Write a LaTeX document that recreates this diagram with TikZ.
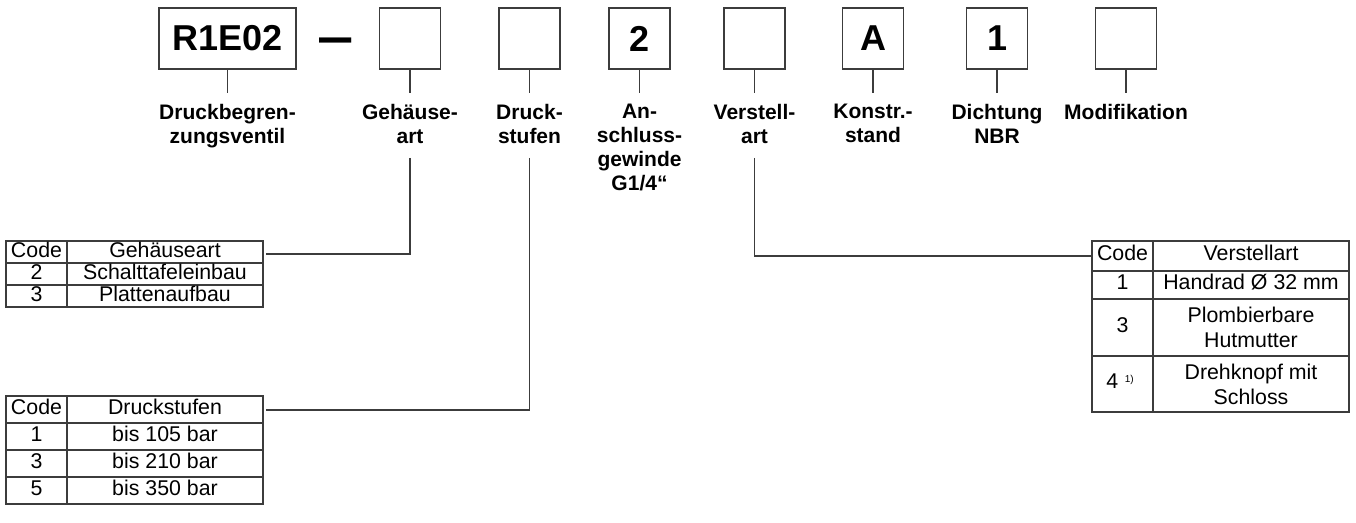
\documentclass[tikz,border=0pt]{standalone}
\usepackage{fontspec}
\setmainfont{Liberation Sans}
\definecolor{linec}{HTML}{3C3C3C}
\begin{document}
\begin{tikzpicture}[x=0.75pt,y=-0.75pt,
  codebox/.style={draw=linec, line width=1.1pt, minimum width=45.75pt, minimum height=45.75pt, inner sep=0pt, font=\bfseries\fontsize{27}{27}\selectfont},
  lbl/.style={anchor=north, align=center, inner sep=0pt, font=\bfseries\fontsize{15.75}{18}\selectfont},
  conn/.style={draw=linec, line width=0.9pt},
  tline/.style={draw=linec, line width=1pt},
  cell/.style={inner sep=0pt, font=\fontsize{16}{18.75}\selectfont, text height=0.716em, text depth=0pt},
  mcell/.style={inner sep=0pt, align=center, font=\fontsize{16}{18.75}\selectfont}]
\useasboundingbox (0,0) rectangle (1356,523);

% top code boxes
\node[codebox, minimum width=102.75pt] (b0) at (227.5,38.5) {R1E02};
\node[inner sep=0pt, anchor=base, font=\bfseries\fontsize{23}{23}\selectfont] (dash) at (335.5,55) {\scalebox{1.05}[1.7]{—}};
\node[codebox] (b1) at (410,38.5) {};
\node[codebox] (b2) at (529.5,38.5) {};
\node[codebox] (b3) at (639.5,38.5) {2};
\node[codebox] (b4) at (754.5,38.5) {};
\node[codebox] (b5) at (873,38.5) {A};
\node[codebox] (b6) at (997,38.5) {1};
\node[codebox] (b7) at (1126,38.5) {};

% labels
\node[lbl] (l0) at (227.5,104) {Druckbegren-\\zungsventil};
\node[lbl] (l1) at (410,104) {Gehäuse-\\art};
\node[lbl] (l2) at (529.5,104) {Druck-\\stufen};
\node[lbl] (l3) at (639.5,104) {An-\\schluss-\\gewinde\\G1/4“};
\node[lbl] (l4) at (754.5,104) {Verstell-\\art};
\node[lbl] (l5) at (873,104) {Konstr.-\\stand};
\node[lbl] (l6) at (997,104) {Dichtung\\NBR};
\node[lbl] (l7) at (1126,104) {Modifikation};

% short stems
\foreach \b in {b0,b1,b2,b3,b4,b5,b6,b7}{
  \draw[conn] (\b.south) -- ++(0,23);
}

% table 1: Gehäuseart
\draw[tline] (6,241) rectangle (263,307);
\draw[tline] (67,241) -- (67,307) (6,263) -- (263,263) (6,285) -- (263,285);
\node[cell] (t1a) at (36.5,252.5) {Code};
\node[cell] (t1b) at (165,252.5) {Gehäuseart};
\node[cell] (t1c) at (36.5,274.5) {2};
\node[cell] (t1d) at (165,274.5) {Schalttafeleinbau};
\node[cell] (t1e) at (36.5,296.5) {3};
\node[cell] (t1f) at (165,296.5) {Plattenaufbau};

% table 2: Druckstufen
\draw[tline] (6,396) rectangle (263,504);
\draw[tline] (67,396) -- (67,504) (6,423) -- (263,423) (6,450) -- (263,450) (6,477) -- (263,477);
\node[cell] (t2a) at (36.5,409.5) {Code};
\node[cell] (t2b) at (165,409.5) {Druckstufen};
\node[cell] (t2c) at (36.5,436.5) {1};
\node[cell] (t2d) at (165,436.5) {bis 105 bar};
\node[cell] (t2e) at (36.5,463.5) {3};
\node[cell] (t2f) at (165,463.5) {bis 210 bar};
\node[cell] (t2g) at (36.5,490.5) {5};
\node[cell] (t2h) at (165,490.5) {bis 350 bar};

% table 3: Verstellart
\draw[tline] (1092,241) rectangle (1349,412);
\draw[tline] (1153,241) -- (1153,412) (1092,271) -- (1349,271) (1092,299) -- (1349,299) (1092,356) -- (1349,356);
\node[cell] (t3a) at (1122.5,256) {Code};
\node[cell] (t3b) at (1251,256) {Verstellart};
\node[cell] (t3c) at (1122.5,285) {1};
\node[cell] (t3d) at (1251,285) {Handrad Ø 32 mm};
\node[cell] (t3e) at (1122.5,327.5) {3};
\node[mcell] (t3f) at (1251,327.5) {Plombierbare\\Hutmutter};
\node[cell] (t3g) at (1120,384) {4\hspace{5pt}\raisebox{5pt}{\fontsize{7.5}{7.5}\selectfont 1)}};
\node[mcell] (t3h) at (1251,384) {Drehknopf mit\\Schloss};

% long connectors
\coordinate (c1) at (410,158);
\coordinate (e1) at (266,254);
\coordinate (c2) at (529.5,158);
\coordinate (e2) at (266,410);
\coordinate (c4) at (754.5,158);
\coordinate (e4) at (1092,256);
\draw[conn] (c1) |- (e1);
\draw[conn] (c2) |- (e2);
\draw[conn] (c4) |- (e4);
\end{tikzpicture}
\end{document}
